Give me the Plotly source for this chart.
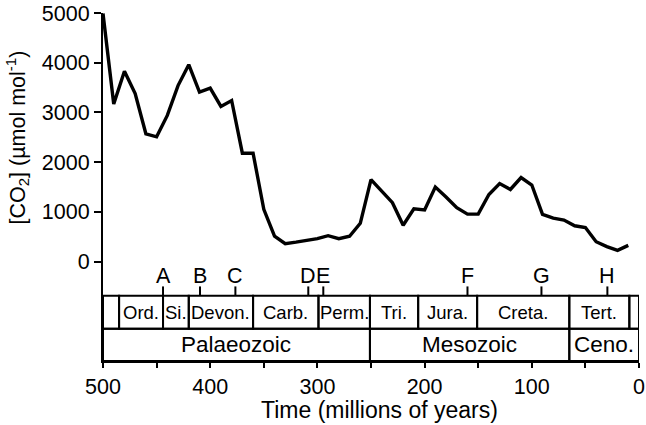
import plotly.graph_objects as go

# ---------------- data ----------------
time_myr = [500, 490, 480, 470, 460, 450, 440, 430, 420, 410, 400, 390, 380, 370,
            360, 350, 340, 330, 320, 310, 300, 290, 280, 270, 260, 250, 240, 230,
            220, 210, 200, 190, 180, 170, 160, 150, 140, 130, 120, 110, 100, 90,
            80, 70, 60, 50, 40, 30, 20, 10]
co2 = [4990, 3170, 3830, 3380, 2570, 2510, 2940, 3540, 3960, 3410, 3490, 3120, 3240, 2180,
       2180, 1050, 510, 360, 390, 420, 460, 520, 460, 510, 770, 1650, 1420, 1185,
       730, 1060, 1040, 1500, 1300, 1085, 955, 955, 1350, 1570, 1450, 1690, 1540, 950,
       875, 835, 720, 685, 400, 300, 225, 325]

period_names = ["", "Ord.", "Si.", "Devon.", "Carb.", "Perm.", "Tri.", "Jura.", "Creta.", "Tert.", ""]
period_start = [500, 485, 444, 420, 360, 299, 251, 206, 151, 65, 9]
period_end = [485, 444, 420, 360, 299, 251, 206, 151, 65, 9, 0]

era_names = ["Palaeozoic", "Mesozoic", "Ceno."]
era_start = [500, 251, 65]
era_end = [251, 65, 0]

event_labels = ["A", "B", "C", "D", "E", "F", "G", "H"]
event_times = [444, 409.5, 376.5, 308.5, 294.5, 160, 91, 29.5]

y_ticks = [0, 1000, 2000, 3000, 4000, 5000]
x_ticks = [500, 400, 300, 200, 100, 0]
x_minor_ticks = [450, 350, 250, 150, 50]

# ---------------- layout constants ----------------
FONT = "Liberation Sans, Arial, sans-serif"
ROW1_TOP, ROW_MID, ROW2_BOT = -690, -1350, -2000
TICK_TOP = -500

fig = go.Figure()
fig.add_trace(go.Scatter(x=time_myr, y=co2, mode="lines",
                         line=dict(color="black", width=3.4),
                         cliponaxis=False, hoverinfo="skip", showlegend=False))

shapes = []
annotations = []
for name, s, e in zip(period_names, period_start, period_end):
    shapes.append(dict(type="rect", xref="x", yref="y", x0=s, x1=e, y0=ROW_MID, y1=ROW1_TOP,
                       line=dict(color="black", width=2), fillcolor="rgba(0,0,0,0)"))
    if name:
        annotations.append(dict(x=(s + e) / 2, y=(ROW1_TOP + ROW_MID) / 2, xref="x", yref="y",
                                text=name, showarrow=False, xanchor="center", yanchor="middle",
                                font=dict(size=18.5, color="black", family=FONT)))
for name, s, e in zip(era_names, era_start, era_end):
    shapes.append(dict(type="rect", xref="x", yref="y", x0=s, x1=e, y0=ROW2_BOT, y1=ROW_MID,
                       line=dict(color="black", width=2), fillcolor="rgba(0,0,0,0)"))
    annotations.append(dict(x=(s + e) / 2, y=(ROW_MID + ROW2_BOT) / 2, xref="x", yref="y",
                            text=name, showarrow=False, xanchor="center", yanchor="middle",
                            font=dict(size=22.5, color="black", family=FONT)))
for lab, t in zip(event_labels, event_times):
    shapes.append(dict(type="line", xref="x", yref="y", x0=t, x1=t, y0=ROW1_TOP, y1=TICK_TOP,
                       line=dict(color="black", width=2)))
    annotations.append(dict(x=t, y=-285, xref="x", yref="y", text=lab, showarrow=False,
                            xanchor="center", yanchor="middle",
                            font=dict(size=21.5, color="black", family=FONT)))

annotations.append(dict(x=-0.160, y=2500, xref="paper", yref="y", textangle=-90,
                        text="[CO<sub>2</sub>] (µmol mol<sup>-1</sup>)", showarrow=False,
                        xanchor="center", yanchor="middle",
                        font=dict(size=21.5, color="black", family=FONT)))
annotations.append(dict(x=0.516, y=-0.141, xref="paper", yref="paper",
                        text="Time (millions of years)", showarrow=False,
                        xanchor="center", yanchor="middle",
                        font=dict(size=23, color="black", family=FONT)))

fig.update_layout(
    width=646, height=425,
    margin=dict(l=103, r=7, t=13, b=64),
    paper_bgcolor="white", plot_bgcolor="white",
    font=dict(family=FONT, size=21, color="black"),
    shapes=shapes, annotations=annotations,
    xaxis=dict(range=[500, 0], tickmode="array", tickvals=x_ticks,
               showgrid=False, zeroline=False, showline=True, linecolor="black", linewidth=2,
               ticks="outside", ticklen=5, tickwidth=2, tickcolor="black", automargin=False,
               tickfont=dict(size=21.5, family=FONT),
               minor=dict(tickmode="array", tickvals=x_minor_ticks, ticks="outside",
                          ticklen=5, tickwidth=2, tickcolor="black", showgrid=False)),
    yaxis=dict(range=[-2000, 5000], tickmode="array", tickvals=y_ticks,
               showgrid=False, zeroline=False, showline=True, linecolor="black", linewidth=2,
               ticks="outside", ticklen=7, tickwidth=2, tickcolor="black", automargin=False,
               tickfont=dict(size=21.5, family=FONT)),
)

fig.write_html("out.html", config={"displayModeBar": False},
               post_script="document.body.style.margin='0';document.body.style.overflow='hidden';")
